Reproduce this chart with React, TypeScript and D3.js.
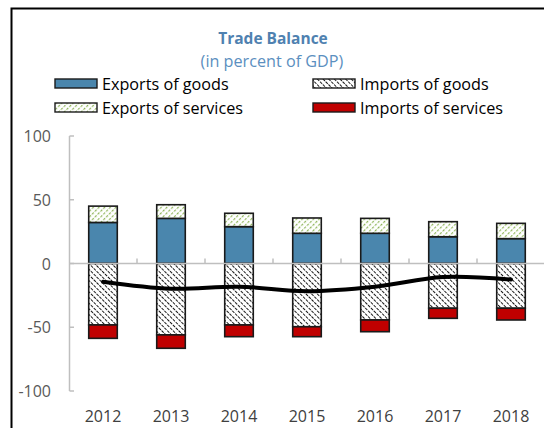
import React from "react";
import * as d3 from "d3";

const years = ["2012", "2013", "2014", "2015", "2016", "2017", "2018"];
const exportsGoods = [32.2, 35.4, 28.9, 23.7, 23.7, 21.0, 19.5];
const exportsServices = [12.8, 10.7, 10.5, 12.0, 11.7, 11.8, 12.0];
const importsGoods = [-48.2, -56.0, -48.2, -49.6, -44.3, -35.1, -35.1];
const importsServices = [-10.5, -10.5, -9.2, -7.8, -9.2, -7.9, -9.2];
const tradeBalance = [-14.3, -19.8, -18.2, -21.7, -18.2, -10.6, -12.6];
const yTicks = [100, 50, 0, -50, -100];

const W = 544;
const H = 428;
const FONT = "'Open Sans', 'Noto Sans', sans-serif";

export default function App() {
  const x = d3.scaleBand<string>().domain(years).range([69, 545]).padding(0);
  const y = d3.scaleLinear().domain([-100, 100]).range([391, 136]);
  const bw = x.bandwidth();
  const barW = bw * 0.42;
  const bx = (yr: string) => (x(yr) as number) + (bw - barW) / 2;
  const cx = (yr: string) => (x(yr) as number) + bw / 2;

  const line = d3
    .line<number>()
    .x((_, i) => cx(years[i]))
    .y((d) => y(d))
    .curve(d3.curveCatmullRom.alpha(0.5));

  const blue = "#4a86ad";
  const red = "#c00000";
  const green = "#8fb55a";
  const border = "#1a1a1a";
  const axisCol = "#bfbfbf";

  const rect = (x0: number, v0: number, v1: number, fill: string, key: string) => {
    const top = y(Math.max(v0, v1));
    const bot = y(Math.min(v0, v1));
    return (
      <rect key={key} x={x0} y={top} width={barW} height={bot - top} fill={fill} stroke={border} strokeWidth={1.6} />
    );
  };

  const legend = [
    { label: "Exports of goods", fill: blue, x: 55, y: 79 },
    { label: "Imports of goods", fill: "url(#impG)", x: 313, y: 79 },
    { label: "Exports of services", fill: "url(#expS)", x: 55, y: 103 },
    { label: "Imports of services", fill: red, x: 313, y: 103 },
  ];

  return (
    <svg width={W} height={H} style={{ position: "absolute", left: 0, top: 0, background: "#fff" }} fontFamily={FONT}>
      <defs>
        <pattern id="expS" patternUnits="userSpaceOnUse" width={4} height={4} patternTransform="rotate(45)">
          <rect width={4} height={4} fill="#fff" />
          <line x1={0} y1={0} x2={0} y2={4} stroke={green} strokeWidth={2.4} strokeDasharray="2.5 1.5" />
        </pattern>
        <pattern id="impG" patternUnits="userSpaceOnUse" width={4} height={4} patternTransform="rotate(-45)">
          <rect width={4} height={4} fill="#fff" />
          <line x1={0} y1={0} x2={0} y2={4} stroke="#000" strokeWidth={1.8} strokeDasharray="3 1" />
        </pattern>
      </defs>
      <rect width={W} height={H} fill="#fff" />
      {/* frame */}
      <path d={`M11.5,${H} V8.5 H${W}`} fill="none" stroke="#000" strokeWidth={2} />

      {/* title */}
      <text x={273} y={43.5} textAnchor="middle" fontSize={15.5} fontWeight="bold" fill="#4f81b0">
        Trade Balance
      </text>
      <text x={272} y={67} textAnchor="middle" fontSize={16.2} fill="#5b8fc0">
        (in percent of GDP)
      </text>

      {/* legend */}
      {legend.map((l) => (
        <g key={l.label}>
          <rect x={l.x} y={l.y} width={42} height={9} fill={l.fill} stroke={border} strokeWidth={1.4} />
          <text x={l.x + 47} y={l.y + 10.5} fontSize={16.2} fill="#000">
            {l.label}
          </text>
        </g>
      ))}

      {/* y axis */}
      <line x1={69.5} x2={69.5} y1={y(100)} y2={y(-100)} stroke={axisCol} strokeWidth={1.5} />
      {yTicks.map((t) => (
        <g key={t}>
          <line x1={69.5} x2={74} y1={y(t)} y2={y(t)} stroke={axisCol} strokeWidth={1.5} />
          <text x={51} y={y(t) + 6} textAnchor="end" fontSize={16} fill="#595959">
            {t}
          </text>
        </g>
      ))}

      {/* bars */}
      {years.map((yr, i) => {
        const x0 = bx(yr);
        const eg = exportsGoods[i];
        const es = exportsServices[i];
        const ig = importsGoods[i];
        const is = importsServices[i];
        return (
          <g key={yr}>
            {rect(x0, 0, eg, blue, "eg")}
            {rect(x0, eg, eg + es, "url(#expS)", "es")}
            {rect(x0, 0, ig, "url(#impG)", "ig")}
            {rect(x0, ig, ig + is, red, "is")}
          </g>
        );
      })}

      {/* zero axis */}
      <line x1={69} x2={W} y1={y(0)} y2={y(0)} stroke={axisCol} strokeWidth={1.5} />
      {years.slice(1).map((yr) => (
        <line key={yr} x1={x(yr) as number} x2={x(yr) as number} y1={y(0) - 5} y2={y(0)} stroke={axisCol} strokeWidth={1.5} />
      ))}

      {/* x labels */}
      {years.map((yr) => (
        <text key={yr} x={cx(yr)} y={422} textAnchor="middle" fontSize={16} fill="#404040">
          {yr}
        </text>
      ))}

      {/* trade balance line */}
      <path d={line(tradeBalance) || ""} fill="none" stroke="#000" strokeWidth={4} strokeLinecap="round" />
    </svg>
  );
}
